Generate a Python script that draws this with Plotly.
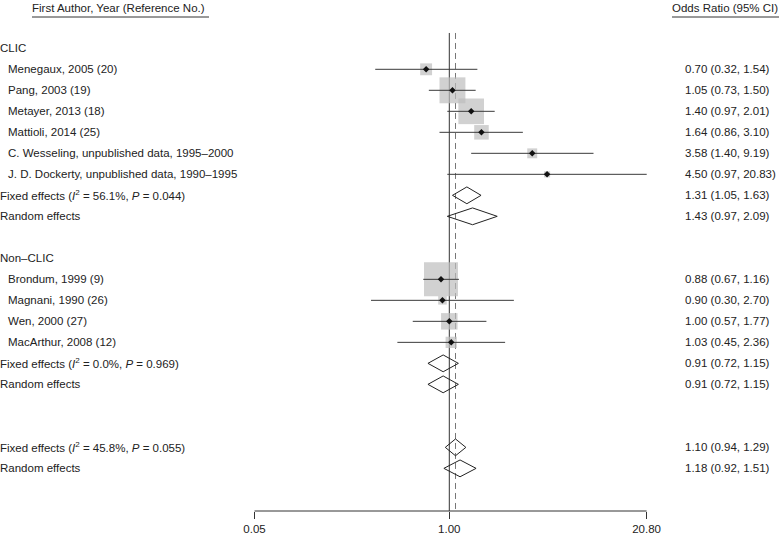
import math
import plotly.graph_objects as go

# ---------------- data ----------------
groups = ["CLIC", "Non\u2013CLIC"]
studies_clic = ["Menegaux, 2005 (20)", "Pang, 2003 (19)", "Metayer, 2013 (18)",
                "Mattioli, 2014 (25)", "C. Wesseling, unpublished data, 1995\u20132000",
                "J. D. Dockerty, unpublished data, 1990\u20131995"]
or_clic = [0.70, 1.05, 1.40, 1.64, 3.58, 4.50]
lo_clic = [0.32, 0.73, 0.97, 0.86, 1.40, 0.97]
hi_clic = [1.54, 1.50, 2.01, 3.10, 9.19, 20.83]

studies_non = ["Brondum, 1999 (9)", "Magnani, 1990 (26)", "Wen, 2000 (27)", "MacArthur, 2008 (12)"]
or_non = [0.88, 0.90, 1.00, 1.03]
lo_non = [0.67, 0.30, 0.57, 0.45]
hi_non = [1.16, 2.70, 1.77, 2.36]

# pooled: [fixed, random] per group and overall
pooled_clic_or = [1.31, 1.43]
pooled_clic_lo = [1.05, 0.97]
pooled_clic_hi = [1.63, 2.09]
pooled_non_or = [0.91, 0.91]
pooled_non_lo = [0.72, 0.72]
pooled_non_hi = [1.15, 1.15]
pooled_all_or = [1.10, 1.18]
pooled_all_lo = [0.94, 0.92]
pooled_all_hi = [1.29, 1.51]

het_i2 = ["56.1", "0.0", "45.8"]
het_p = ["0.044", "0.969", "0.055"]

tick_vals = [0.05, 1.00, 20.80]
tick_text = ["0.05", "1.00", "20.80"]
null_value = 1.0

# ---------------- layout of rows ----------------
FONT = "Liberation Sans, Arial, Helvetica, sans-serif"
FS = 11.5
TXT = "#222222"
W, H = 782, 536
PX_PER_DEC = 149.7
X1_PX = 449.3

def xpaper(px):
    return px / W

rows_clic = [1, 2, 3, 4, 5, 6]
rows_clic_pool = [7, 8]
rows_non = [11, 12, 13, 14]
rows_non_pool = [15, 16]
rows_all_pool = [19, 20]

fig = go.Figure()

# weights (inverse variance) for box size
def weight(lo, hi):
    se = (math.log(hi) - math.log(lo)) / 3.92
    return 1.0 / se ** 2

all_lo = lo_clic + lo_non
all_hi = hi_clic + hi_non
wmax = max(weight(l, h) for l, h in zip(all_lo, all_hi))

def study_traces(ors, los, his, rows):
    sizes = [34 * math.sqrt(weight(l, h) / wmax) for l, h in zip(los, his)]
    fig.add_trace(go.Scatter(x=ors, y=rows, mode="markers",
                             marker=dict(symbol="square", size=sizes, color="#bdbdbd",
                                         line=dict(width=0)),
                             hoverinfo="skip", showlegend=False))
    xs, ys = [], []
    for l, h, r in zip(los, his, rows):
        xs += [l, h, None]
        ys += [r, r, None]
    fig.add_trace(go.Scatter(x=xs, y=ys, mode="lines",
                             line=dict(color="#3a3a3a", width=1),
                             hoverinfo="skip", showlegend=False))
    fig.add_trace(go.Scatter(x=ors, y=rows, mode="markers",
                             marker=dict(symbol="diamond", size=5, color="#111111"),
                             hoverinfo="skip", showlegend=False))

def diamonds(ors, los, his, rows):
    hh = 0.4
    for o, l, h, r in zip(ors, los, his, rows):
        fig.add_trace(go.Scatter(x=[l, o, h, o, l], y=[r, r - hh, r, r + hh, r],
                                 mode="lines",
                                 line=dict(color="#222222", width=1),
                                 hoverinfo="skip", showlegend=False))

# reference lines
TOP_ROW = -0.73
fig.add_shape(type="line", xref="x", yref="y", x0=null_value, x1=null_value,
              y0=TOP_ROW, y1=22.03, line=dict(color="#333333", width=1), layer="below")
fig.add_shape(type="line", xref="x", yref="y", x0=pooled_all_or[0], x1=pooled_all_or[0],
              y0=TOP_ROW, y1=22.03, line=dict(color="#777777", width=1, dash="6px,4px"),
              layer="below")
# axis line
fig.add_shape(type="line", xref="x", yref="paper", x0=tick_vals[0], x1=tick_vals[-1],
              y0=0, y1=0, line=dict(color="#333333", width=1))

study_traces(or_clic, lo_clic, hi_clic, rows_clic)
study_traces(or_non, lo_non, hi_non, rows_non)
diamonds(pooled_clic_or, pooled_clic_lo, pooled_clic_hi, rows_clic_pool)
diamonds(pooled_non_or, pooled_non_lo, pooled_non_hi, rows_non_pool)
diamonds(pooled_all_or, pooled_all_lo, pooled_all_hi, rows_all_pool)

ann = []
def text(px, row, s, anchor="left"):
    ann.append(dict(x=xpaper(px), xref="paper", y=row, yref="y", text=s,
                    showarrow=False, xanchor=anchor, yanchor="middle",
                    borderpad=0, borderwidth=0,
                    font=dict(family=FONT, size=FS, color=TXT)))

def ci_label(o, l, h):
    return f"{o:.2f} ({l:.2f}, {h:.2f})"

HEADER_ROW = -1.94
text(32, HEADER_ROW, "First Author, Year (Reference No.)")
text(672, HEADER_ROW, "Odds Ratio (95% CI)")
for x0, x1 in [(32, 209), (672, 779)]:
    fig.add_shape(type="line", xref="paper", yref="y", x0=xpaper(x0), x1=xpaper(x1),
                  y0=-1.49, y1=-1.49, line=dict(color="#333333", width=1))

RX = 685
text(0, 0, groups[0])
for s, o, l, h, r in zip(studies_clic, or_clic, lo_clic, hi_clic, rows_clic):
    text(8, r, s)
    text(RX, r, ci_label(o, l, h))
text(0, 10, groups[1])
for s, o, l, h, r in zip(studies_non, or_non, lo_non, hi_non, rows_non):
    text(8, r, s)
    text(RX, r, ci_label(o, l, h))

def pooled_labels(ors, los, his, rows, k):
    text(0, rows[0], f"Fixed effects (<i>I</i><sup>2</sup> = {het_i2[k]}%, <i>P</i> = {het_p[k]})")
    text(0, rows[1], "Random effects")
    for o, l, h, r in zip(ors, los, his, rows):
        text(RX, r, ci_label(o, l, h))

pooled_labels(pooled_clic_or, pooled_clic_lo, pooled_clic_hi, rows_clic_pool, 0)
pooled_labels(pooled_non_or, pooled_non_lo, pooled_non_hi, rows_non_pool, 1)
pooled_labels(pooled_all_or, pooled_all_lo, pooled_all_hi, rows_all_pool, 2)

xmin = -X1_PX / PX_PER_DEC
xmax = (W - X1_PX) / PX_PER_DEC

fig.update_layout(
    width=W, height=H,
    margin=dict(l=0, r=0, t=0, b=25),
    paper_bgcolor="white", plot_bgcolor="white",
    annotations=ann,
    showlegend=False,
    xaxis=dict(type="log", range=[xmin, xmax], tickvals=tick_vals, ticktext=tick_text,
               ticks="outside", ticklen=7, tickcolor="#333333", tickwidth=1,
               showline=False, showgrid=False, zeroline=False,
               tickfont=dict(family=FONT, size=FS, color=TXT), fixedrange=True),
    yaxis=dict(range=[22.03, -2.3], visible=False, showgrid=False, zeroline=False,
               fixedrange=True),
)

fig.write_html("out.html", config={"displayModeBar": False},
               post_script="document.body.style.margin='0';document.body.style.padding='0';")
